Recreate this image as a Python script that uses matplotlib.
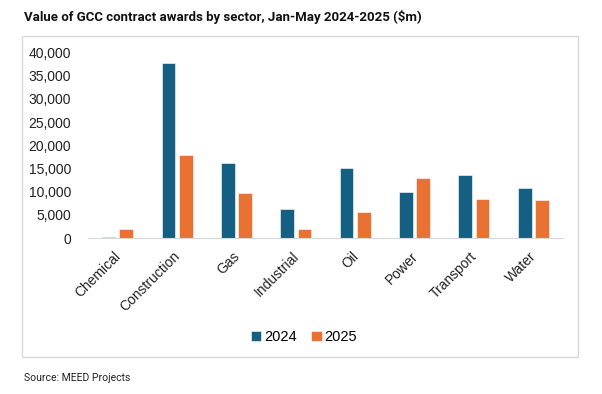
import numpy as np
import matplotlib.pyplot as plt
import matplotlib.transforms as mtransforms
from matplotlib.patches import Rectangle

sectors = ["Chemical", "Construction", "Gas", "Industrial", "Oil", "Power", "Transport", "Water"]
values_2024 = [300, 37800, 16200, 6200, 15200, 9900, 13600, 10800]
values_2025 = [2000, 18000, 9800, 1900, 5500, 13000, 8500, 8200]
years = ["2024", "2025"]
colors = ["#156082", "#E97132"]

plt.rcParams['font.family'] = ['Liberation Sans', 'DejaVu Sans']

W, H = 602, 394
fig = plt.figure(figsize=(W / 100, H / 100), dpi=100)

# chart frame
fig.patches.append(Rectangle((22 / W, 1 - 357 / H), (578 - 22) / W, (357 - 36) / H,
                             transform=fig.transFigure, fill=False,
                             edgecolor="#D9D9D9", linewidth=1.0))

fig.text(24 / W, 1 - 17 / H, "Value of GCC contract awards by sector, Jan-May 2024-2025 ($m)",
         fontsize=9.5, fontweight="bold", va="center", ha="left", color="#111111",
         family=["Roboto", "DejaVu Sans"])
fig.text(24 / W, 1 - 378 / H, "Source: MEED Projects", fontsize=7.5, va="center",
         ha="left", color="#222222", family=["Roboto", "DejaVu Sans"])

ax = fig.add_axes([88 / W, 1 - 238 / H, (563 - 88) / W, (238 - 52.5) / H])

x = np.arange(len(sectors))
w = 0.23
gap = 0.03
ax.bar(x - w / 2 - gap, values_2024, width=w, color=colors[0], label=years[0],
       edgecolor="white", linewidth=0.4)
ax.bar(x + w / 2 + gap, values_2025, width=w, color=colors[1], label=years[1],
       edgecolor="white", linewidth=0.4)

ax.set_xlim(-0.5, len(sectors) - 0.5)
ax.set_ylim(0, 40000)
ax.set_yticks(range(0, 40001, 5000))
ax.set_yticklabels([f"{v:,}" for v in range(0, 40001, 5000)])
ax.set_xticks(x)
ax.set_xticklabels(sectors, rotation=45, ha="right", rotation_mode="anchor")

for s in ["top", "right", "left"]:
    ax.spines[s].set_visible(False)
ax.spines["bottom"].set_color("#D9D9D9")
ax.tick_params(axis="both", length=0, labelsize=10, colors="#222222")
ax.tick_params(axis="x", pad=8)
ax.tick_params(axis="y", pad=12)

# nudge the rotated labels a little left
shift = mtransforms.ScaledTranslation(-4 / 100, 0, fig.dpi_scale_trans)
for lbl in ax.get_xticklabels():
    lbl.set_transform(lbl.get_transform() + shift)

fig.legend(loc="center", bbox_to_anchor=(304 / W, 1 - 337 / H), ncol=2, frameon=False,
           fontsize=10.5, handlelength=0.7, handleheight=0.7, handletextpad=0.2,
           columnspacing=1.0)

fig.savefig("out.png", dpi=100)
